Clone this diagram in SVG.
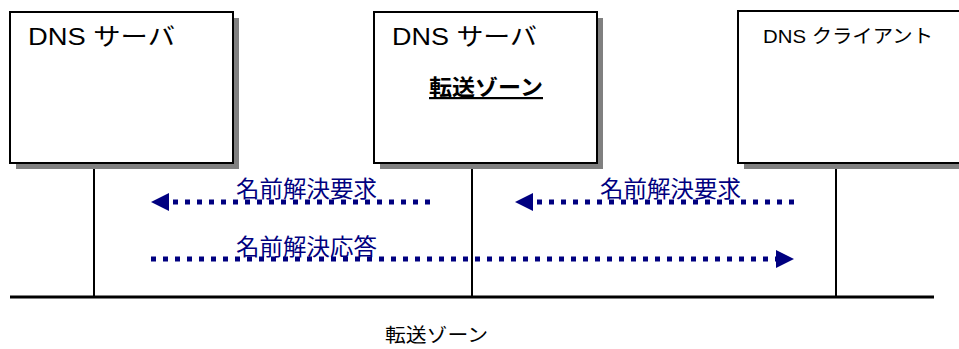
<svg xmlns="http://www.w3.org/2000/svg" width="959" height="349" viewBox="0 0 959 349">
<style>
.shadow{fill:#808080}
.box{fill:#fff;stroke:#000;stroke-width:2}
.t{font-family:"Liberation Sans","Noto Sans CJK JP",sans-serif;fill:#000}
.lbl{font-family:"Noto Sans CJK JP",sans-serif;fill:#000080;font-size:23px}
.dot{stroke:#000080;stroke-width:5;stroke-dasharray:5 7;fill:none}
.ah{fill:#000080}
.wire{stroke:#000;stroke-width:2}
</style>
<rect width="959" height="349" fill="#fff"/>
<g id="connectors">
<line class="wire" x1="94" y1="163" x2="94" y2="297"/>
<line class="wire" x1="472" y1="163" x2="472" y2="297"/>
<line class="wire" x1="836" y1="163" x2="836" y2="297"/>
<line x1="10" y1="297" x2="934" y2="297" stroke="#000" stroke-width="3"/>
<g id="req1">
<line class="dot" x1="173" y1="202" x2="432" y2="202"/>
<polygon class="ah" points="151,202 169,193 169,211"/>
<text class="lbl" x="236" y="197" textLength="141" lengthAdjust="spacingAndGlyphs">名前解決要求</text>
</g>
<g id="req2">
<line class="dot" x1="537" y1="202" x2="796" y2="202"/>
<polygon class="ah" points="515,202 533,193 533,211"/>
<text class="lbl" x="600" y="197" textLength="141" lengthAdjust="spacingAndGlyphs">名前解決要求</text>
</g>
<g id="resp">
<line class="dot" x1="151" y1="259" x2="776" y2="259"/>
<polygon class="ah" points="794,259 776,250 776,268"/>
<text class="lbl" x="236" y="255" textLength="141" lengthAdjust="spacingAndGlyphs">名前解決応答</text>
</g>
</g>
<g id="server1">
<rect class="shadow" x="16" y="18" width="223" height="151"/>
<rect class="box" x="10" y="12" width="223" height="151"/>
<text class="t" x="28" y="45" font-size="24" textLength="147" lengthAdjust="spacingAndGlyphs">DNS サーバ</text>
</g>
<g id="server2">
<rect class="shadow" x="380" y="18" width="223" height="151"/>
<rect class="box" x="374" y="12" width="223" height="151"/>
<text class="t" x="392" y="45" font-size="24" textLength="145" lengthAdjust="spacingAndGlyphs">DNS サーバ</text>
<text x="429" y="95" font-family="Noto Sans CJK JP,sans-serif" font-weight="bold" font-size="22" text-decoration="underline" fill="#000" textLength="114" lengthAdjust="spacingAndGlyphs">転送ゾーン</text>
</g>
<g id="client">
<rect class="shadow" x="744" y="17" width="240" height="152"/>
<rect class="box" x="738" y="11" width="240" height="152"/>
<text class="t" x="763" y="43" font-size="19" textLength="170" lengthAdjust="spacingAndGlyphs">DNS クライアント</text>
</g>
<text x="385" y="342" font-family="Noto Sans CJK JP,sans-serif" font-size="19" fill="#000" textLength="103" lengthAdjust="spacingAndGlyphs">転送ゾーン</text>
</svg>
